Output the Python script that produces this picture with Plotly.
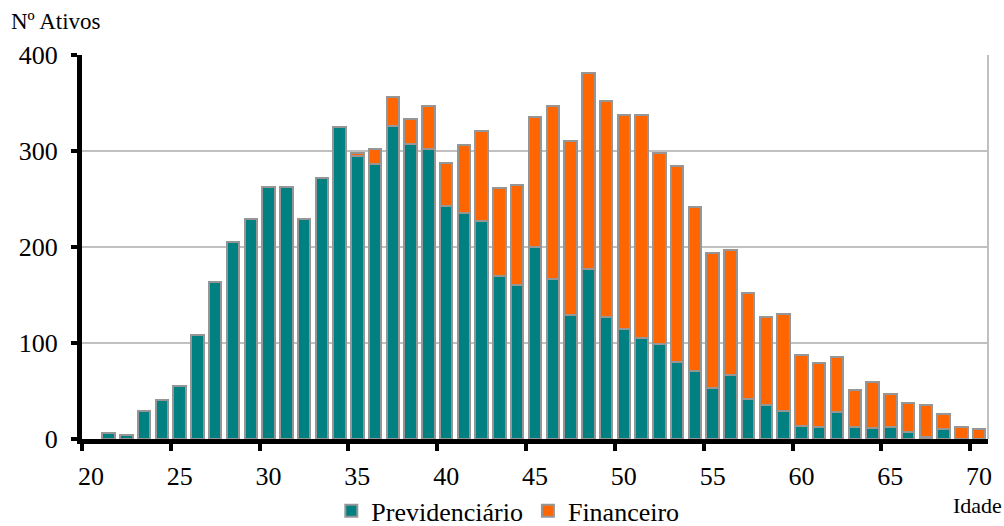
import plotly.graph_objects as go

ages = list(range(21, 71))
previdenciario = [6, 4, 29, 41, 55, 108, 164, 205, 229, 262,
                  263, 229, 272, 325, 295, 286, 326, 307, 302, 243,
                  235, 227, 170, 160, 200, 167, 129, 177, 127, 115,
                  105, 99, 80, 71, 53, 67, 42, 35, 29, 14,
                  12, 28, 13, 11, 12, 7, 2, 10, 0, 0]
financeiro = [0, 0, 0, 0, 0, 0, 0, 0, 0, 0,
              0, 0, 0, 0, 3, 16, 30, 26, 45, 45,
              71, 94, 91, 105, 135, 180, 181, 204, 225, 222,
              232, 199, 204, 171, 141, 130, 110, 92, 101, 73,
              67, 57, 38, 48, 35, 31, 33, 16, 13, 10]
x_tick_vals = [20, 25, 30, 35, 40, 45, 50, 55, 60, 65, 70]
x_tick_text = [str(v) for v in x_tick_vals]
y_tick_vals = [0, 100, 200, 300, 400]

FONT = "'Liberation Serif', 'Times New Roman', Times, serif"
TEAL = "#008080"
ORANGE = "#FF6600"
EDGE = "#969696"

def nz(vals):
    return [v if v else None for v in vals]

fig = go.Figure()
fig.add_trace(go.Bar(x=ages, y=nz(previdenciario), name="Previdenciário",
                     marker=dict(color=TEAL, line=dict(color=EDGE, width=2)),
                     width=0.7))
fig.add_trace(go.Bar(x=ages, y=nz(financeiro), name="Financeiro",
                     marker=dict(color=ORANGE, line=dict(color=EDGE, width=2)),
                     width=0.7))

fig.update_layout(
    barmode="stack",
    width=1004, height=526,
    margin=dict(l=82, r=16, t=55, b=87, autoexpand=False),
    paper_bgcolor="white", plot_bgcolor="white",
    font=dict(family=FONT, size=25, color="black"),
    showlegend=True,
    legend=dict(orientation="h", x=0.47, xanchor="center", y=-0.187, yanchor="middle",
                font=dict(family=FONT, size=26), traceorder="normal",
                bgcolor="rgba(0,0,0,0)", itemwidth=30, tracegroupgap=0),
    xaxis=dict(range=[19.5, 70.5], tickmode="array", tickvals=x_tick_vals,
               ticktext=x_tick_text, ticks="", showgrid=False,
               showline=True, linecolor="black", linewidth=5,
               ticklabelstandoff=10, zeroline=False,
               minor=dict(tickmode="linear", tick0=19.5, dtick=5, ticks="outside",
                          ticklen=7, tickwidth=4, tickcolor="black", showgrid=False),
               tickfont=dict(family=FONT, size=26)),
    yaxis=dict(range=[0, 400], tickvals=y_tick_vals, ticks="outside", ticklen=6,
               tickwidth=4, tickcolor="black", showline=True, linecolor="black",
               linewidth=5, showgrid=True, gridcolor="#C0C0C0", gridwidth=2,
               zeroline=False, ticklabelstandoff=8,
               tickfont=dict(family=FONT, size=26)),
    shapes=[dict(type="line", xref="paper", yref="paper", x0=1, x1=1, y0=0, y1=1,
                 line=dict(color="#C0C0C0", width=2))],
    annotations=[
        dict(text="Nº Ativos", xref="paper", yref="paper", x=-0.081, y=1.086,
             xanchor="left", yanchor="middle", showarrow=False,
             font=dict(family=FONT, size=23)),
        dict(text="Idade", xref="paper", yref="paper", x=1.0175, y=-0.172,
             xanchor="right", yanchor="middle", showarrow=False,
             font=dict(family=FONT, size=22)),
    ],
)

fig.write_html("out.html")
